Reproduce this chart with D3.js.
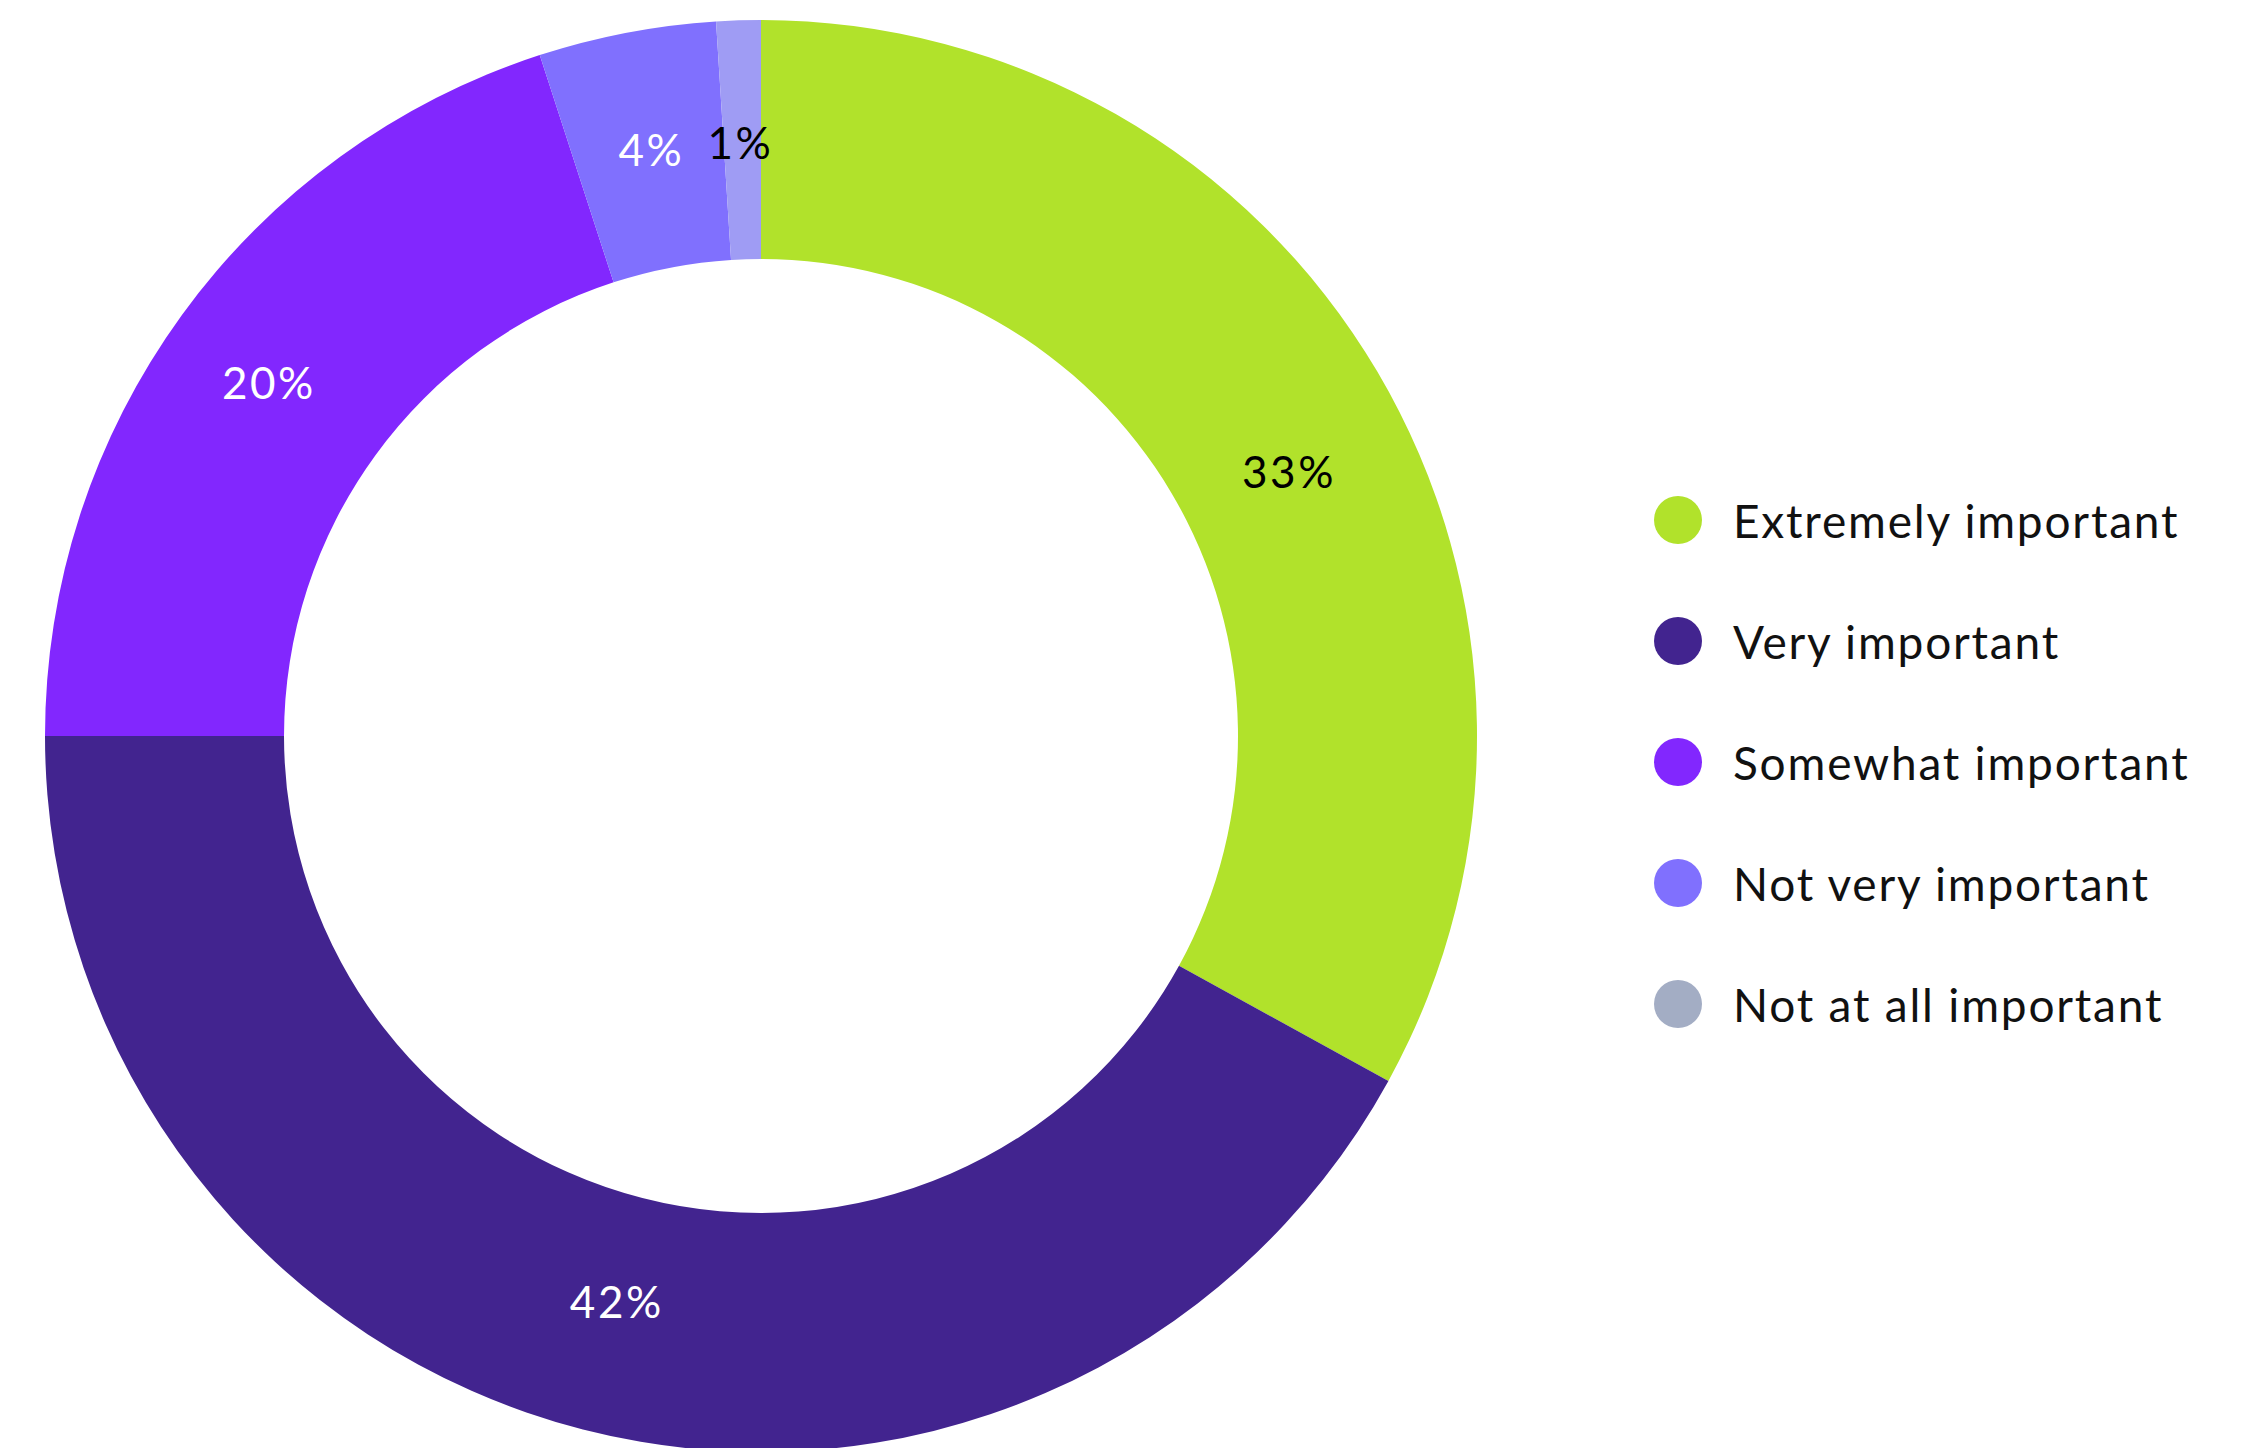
<!DOCTYPE html>
<html>
<head>
<meta charset="utf-8">
<script src="https://cdn.jsdelivr.net/npm/d3@7"></script>
<style>
  html, body { margin: 0; padding: 0; background: #ffffff; }
  svg { display: block; }
  text { font-family: Lato, "Noto Sans", sans-serif; }
</style>
</head>
<body>
<svg id="chart" width="2253" height="1448"></svg>
<script>
// Survey answers, share of respondents (%)
const categories = [
  "Extremely important",
  "Very important",
  "Somewhat important",
  "Not very important",
  "Not at all important"
];
const values = [33, 42, 20, 4, 1];
const labels = ["33%", "42%", "20%", "4%", "1%"];

// Slice fills, legend swatch fills and in-slice label colours
const sliceColors  = ["#b1e22b", "#42248f", "#8227fe", "#8070fe", "#9f9cf4"];
const legendColors = ["#b1e22b", "#42248f", "#8227fe", "#8070fe", "#a3adc4"];
const labelColors  = ["#000000", "#ffffff", "#ffffff", "#ffffff", "#000000"];

// Fine placement of the in-slice labels relative to the slice centroid (px)
const labelNudge = [[15, 38], [4, -12], [-10, -4], [2, -2], [-2, 2]];

const cx = 761, cy = 736;
const outerR = 716, innerR = 477, labelR = 596;

const svg = d3.select("#chart");

const data = categories.map((c, i) => ({ name: c, value: values[i], i }));

const pie = d3.pie()
  .value(d => d.value)
  .sort(null)
  .startAngle(0)
  .endAngle(2 * Math.PI);

const arcs = pie(data);

const arc = d3.arc().innerRadius(innerR).outerRadius(outerR);
const labelArc = d3.arc().innerRadius(labelR).outerRadius(labelR);

const g = svg.append("g").attr("transform", `translate(${cx},${cy})`);

g.selectAll("path.slice")
  .data(arcs)
  .join("path")
  .attr("class", "slice")
  .attr("d", arc)
  .attr("fill", d => sliceColors[d.data.i]);

g.selectAll("text.pct")
  .data(arcs)
  .join("text")
  .attr("class", "pct")
  .attr("transform", d => {
    const [x, y] = labelArc.centroid(d);
    const [nx, ny] = labelNudge[d.data.i];
    return `translate(${x + nx},${y + ny})`;
  })
  .attr("text-anchor", "middle")
  .attr("dominant-baseline", "central")
  .attr("font-size", 44)
  .attr("letter-spacing", 2.5)
  .attr("fill", d => labelColors[d.data.i])
  .text(d => labels[d.data.i]);

// Legend
const ly = d3.scalePoint().domain(categories).range([520, 1004]);
const rows = svg.append("g")
  .selectAll("g.row")
  .data(data)
  .join("g")
  .attr("class", "row")
  .attr("transform", d => `translate(1678,${ly(d.name)})`);

rows.append("circle")
  .attr("r", 24)
  .attr("fill", d => legendColors[d.i]);

rows.append("text")
  .attr("x", 55)
  .attr("dominant-baseline", "central")
  .attr("font-size", 46)
  .attr("letter-spacing", 1.8)
  .attr("fill", "#111111")
  .text(d => d.name);
</script>
</body>
</html>
